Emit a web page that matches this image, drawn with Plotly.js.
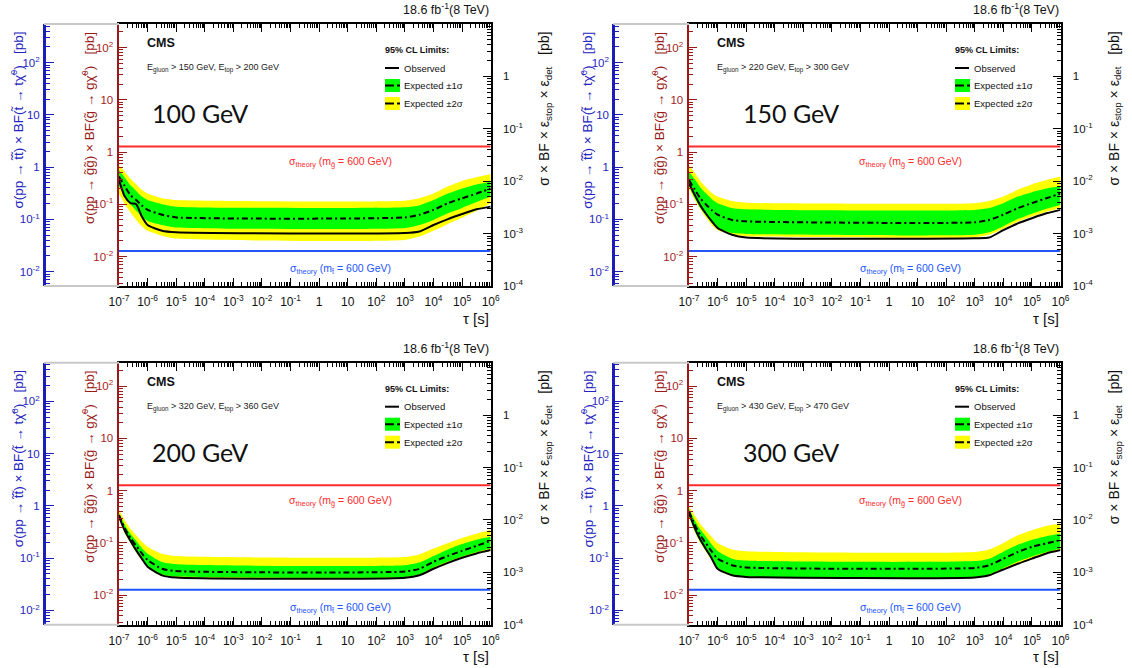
<!DOCTYPE html>
<html><head><meta charset="utf-8">
<script src="https://cdn.plot.ly/plotly-3.0.1.min.js"></script>
<style>html,body{margin:0;padding:0;background:#fff}#chart{width:1132px;height:668px}</style>
</head><body><div id="chart"></div>
<script>
// ---------------- DATA ----------------
const tau = [1e-7, 1.6e-7, 2.5e-7, 4e-7, 6.3e-7, 1e-6, 3.2e-6, 1e-5, 1e3, 3.2e3, 1e4, 3.2e4, 1e5, 3.2e5, 1e6];

const massLabels = ['100 GeV', '150 GeV', '200 GeV', '300 GeV'];
const energyCuts = [
  'E<sub>gluon</sub> > 150 GeV, E<sub>top</sub> > 200 GeV',
  'E<sub>gluon</sub> > 220 GeV, E<sub>top</sub> > 300 GeV',
  'E<sub>gluon</sub> > 320 GeV, E<sub>top</sub> > 360 GeV',
  'E<sub>gluon</sub> > 430 GeV, E<sub>top</sub> > 470 GeV'
];

// 100 GeV
const obs100  = [0.29, 0.14, 0.105, 0.10, 0.058, 0.040, 0.031, 0.029, 0.028, 0.030, 0.040, 0.052, 0.065, 0.080, 0.090];
const exp100  = [0.34, 0.22, 0.15, 0.12, 0.095, 0.078, 0.063, 0.056, 0.056, 0.063, 0.078, 0.105, 0.13, 0.16, 0.20];
const g1lo100 = [0.22, 0.14, 0.10, 0.075, 0.058, 0.048, 0.040, 0.036, 0.035, 0.040, 0.050, 0.067, 0.085, 0.11, 0.14];
const g1hi100 = [0.45, 0.32, 0.23, 0.18, 0.14, 0.12, 0.10, 0.090, 0.0875, 0.095, 0.12, 0.16, 0.20, 0.24, 0.27];
const y2lo100 = [0.16, 0.10, 0.07, 0.05, 0.038, 0.031, 0.025, 0.022, 0.0207, 0.024, 0.031, 0.042, 0.055, 0.075, 0.105];
const y2hi100 = [0.56, 0.42, 0.31, 0.24, 0.19, 0.16, 0.13, 0.12, 0.117, 0.13, 0.16, 0.22, 0.28, 0.33, 0.38];

// 150 GeV
const obs150  = [0.25, 0.15, 0.095, 0.065, 0.047, 0.035, 0.026, 0.023, 0.0224, 0.023, 0.032, 0.043, 0.054, 0.067, 0.078];
const exp150  = [0.29, 0.19, 0.13, 0.098, 0.077, 0.063, 0.050, 0.047, 0.045, 0.050, 0.063, 0.084, 0.105, 0.13, 0.16];
const g1lo150 = [0.22, 0.13, 0.085, 0.060, 0.044, 0.035, 0.028, 0.027, 0.026, 0.029, 0.038, 0.052, 0.066, 0.082, 0.097];
const g1hi150 = [0.42, 0.30, 0.21, 0.16, 0.125, 0.105, 0.085, 0.080, 0.078, 0.085, 0.105, 0.14, 0.17, 0.20, 0.22];
const y2lo150 = [0.20, 0.12, 0.08, 0.055, 0.040, 0.032, 0.026, 0.0245, 0.0234, 0.026, 0.034, 0.046, 0.058, 0.072, 0.084];
const y2hi150 = [0.56, 0.40, 0.28, 0.21, 0.165, 0.14, 0.115, 0.107, 0.105, 0.115, 0.14, 0.19, 0.24, 0.29, 0.34];

// 200 GeV
const obs200  = [0.32, 0.17, 0.11, 0.072, 0.050, 0.035, 0.024, 0.0217, 0.0215, 0.024, 0.032, 0.0415, 0.052, 0.063, 0.073];
const exp200  = [0.34, 0.19, 0.125, 0.088, 0.063, 0.047, 0.032, 0.029, 0.0284, 0.032, 0.0435, 0.0566, 0.0705, 0.088, 0.11];
const g1lo200 = [0.30, 0.16, 0.105, 0.070, 0.048, 0.035, 0.025, 0.0228, 0.0224, 0.025, 0.034, 0.044, 0.055, 0.067, 0.078];
const g1hi200 = [0.37, 0.22, 0.15, 0.11, 0.080, 0.062, 0.043, 0.039, 0.0375, 0.042, 0.056, 0.075, 0.095, 0.115, 0.131];
const y2lo200 = [0.28, 0.15, 0.10, 0.066, 0.046, 0.034, 0.0235, 0.0215, 0.021, 0.0235, 0.032, 0.042, 0.052, 0.063, 0.070];
const y2hi200 = [0.43, 0.27, 0.19, 0.14, 0.105, 0.085, 0.062, 0.056, 0.054, 0.060, 0.078, 0.10, 0.125, 0.15, 0.176];

// 300 GeV
const obs300  = [0.37, 0.19, 0.115, 0.075, 0.050, 0.032, 0.024, 0.0224, 0.0218, 0.024, 0.031, 0.040, 0.050, 0.063, 0.073];
const exp300  = [0.40, 0.22, 0.14, 0.097, 0.068, 0.050, 0.0375, 0.034, 0.0333, 0.0375, 0.050, 0.067, 0.084, 0.098, 0.113];
const g1lo300 = [0.33, 0.17, 0.105, 0.070, 0.047, 0.033, 0.025, 0.0228, 0.0224, 0.025, 0.033, 0.044, 0.055, 0.067, 0.078];
const g1hi300 = [0.45, 0.27, 0.18, 0.13, 0.093, 0.070, 0.050, 0.046, 0.045, 0.050, 0.068, 0.092, 0.115, 0.135, 0.152];
const y2lo300 = [0.31, 0.16, 0.10, 0.067, 0.045, 0.031, 0.0235, 0.022, 0.0215, 0.0235, 0.031, 0.041, 0.051, 0.064, 0.073];
const y2hi300 = [0.50, 0.33, 0.23, 0.17, 0.13, 0.10, 0.075, 0.069, 0.067, 0.075, 0.10, 0.14, 0.175, 0.21, 0.237];

const sigmaGluino600 = 1.27;   // pb, on gluino axis
const sigmaStop600 = 0.0248;   // pb, on stop axis

const xTickVals = [1e-7,1e-6,1e-5,1e-4,1e-3,1e-2,1e-1,1,10,1e2,1e3,1e4,1e5,1e6];
const xTickText = ['10<sup>-7</sup>','10<sup>-6</sup>','10<sup>-5</sup>','10<sup>-4</sup>','10<sup>-3</sup>','10<sup>-2</sup>','10<sup>-1</sup>','1','10','10<sup>2</sup>','10<sup>3</sup>','10<sup>4</sup>','10<sup>5</sup>','10<sup>6</sup>'];
const yTickVals = [1e-2,1e-1,1,10,1e2];
const yTickText = ['10<sup>-2</sup>','10<sup>-1</sup>','1','10','10<sup>2</sup>'];
const rTickVals = [1e-4,1e-3,1e-2,1e-1,1];
const rTickText = ['10<sup>-4</sup>','10<sup>-3</sup>','10<sup>-2</sup>','10<sup>-1</sup>','1'];

const series = [
  {obs: obs100, exp: exp100, g1lo: g1lo100, g1hi: g1hi100, y2lo: y2lo100, y2hi: y2hi100},
  {obs: obs150, exp: exp150, g1lo: g1lo150, g1hi: g1hi150, y2lo: y2lo150, y2hi: y2hi150},
  {obs: obs200, exp: exp200, g1lo: g1lo200, g1hi: g1hi200, y2lo: y2lo200, y2hi: y2hi200},
  {obs: obs300, exp: exp300, g1lo: g1lo300, g1hi: g1hi300, y2lo: y2lo300, y2hi: y2hi300}
];

// ---------------- LAYOUT ----------------
const W = 1132, H = 668;
const fx = p => p / W, fy = p => 1 - p / H;
const panels = [
  {x0: 119, x1: 490.7, blue: 44,    top: 24,    bot: 286,   massDx: 31},
  {x0: 689, x1: 1060.5, blue: 613.3, top: 24,   bot: 286,   massDx: 52},
  {x0: 119, x1: 490.7, blue: 44,    top: 362.7, bot: 624.7, massDx: 31},
  {x0: 689, x1: 1060.5, blue: 613.3, top: 362.7, bot: 624.7, massDx: 52}
];
const FONT = 'Liberation Sans, Arial, Helvetica, sans-serif';
const RED_AX = '#9a1a1a', RED_TXT = '#a82222';
const BLUE_AX = '#1c1cb8', BLUE_TXT = '#2424c0';
const RED_LINE = '#ff2a2a', BLUE_LINE = '#2255ff';
const YEL = '#ffff00', GRN = '#00ff00';
const redRange = [-2.565, 2.45], blueOffset = 0.29, rightRange = [-4, 1.0];

const layout = {
  width: W, height: H, margin: {l: 0, r: 0, t: 0, b: 0},
  paper_bgcolor: '#fff', plot_bgcolor: '#fff', showlegend: false,
  font: {family: FONT, size: 12, color: '#111'},
  annotations: [], shapes: []
};
const data = [];
const minorCfg = (color) => ({ticks: 'inside', ticklen: 4, tickwidth: 1, tickcolor: color, dtick: 'D1', showgrid: false});

panels.forEach((p, i) => {
  const xn = i + 1, xName = xn === 1 ? 'x' : 'x' + xn;
  const rn = 3 * i + 1, rt = 3 * i + 2, bl = 3 * i + 3;
  const yName = n => n === 1 ? 'y' : 'y' + n;
  const yKey = n => n === 1 ? 'yaxis' : 'yaxis' + n;
  const xKey = xn === 1 ? 'xaxis' : 'xaxis' + xn;
  const dom = [fy(p.bot), fy(p.top)];

  layout[xKey] = {
    type: 'log', domain: [fx(p.x0), fx(p.x1)], anchor: yName(rn),
    range: [-7, 6], tickmode: 'array', tickvals: xTickVals, ticktext: xTickText,
    ticks: 'inside', ticklen: 8, tickwidth: 1, tickcolor: '#000',
    minor: minorCfg('#000'),
    showline: true, linecolor: '#000', linewidth: 2, mirror: 'ticks',
    showgrid: false, zeroline: false,
    tickfont: {family: FONT, size: 12, color: '#111'}, ticklabelstandoff: 4
  };
  layout[yKey(rn)] = {
    type: 'log', domain: dom, anchor: xName, range: redRange,
    tickmode: 'array', tickvals: yTickVals, ticktext: yTickText,
    ticks: 'inside', ticklen: 8, tickwidth: 1, tickcolor: RED_AX,
    minor: minorCfg(RED_AX),
    showline: true, linecolor: RED_AX, linewidth: 2.5,
    showgrid: false, zeroline: false,
    tickfont: {family: FONT, size: 11.5, color: RED_TXT}, ticklabelstandoff: 1
  };
  layout[yKey(rt)] = {
    type: 'log', domain: dom, anchor: xName, overlaying: yName(rn), side: 'right',
    range: rightRange, tickmode: 'array', tickvals: rTickVals, ticktext: rTickText,
    ticks: 'inside', ticklen: 8, tickwidth: 1, tickcolor: '#000',
    minor: minorCfg('#000'),
    showline: true, linecolor: '#000', linewidth: 2,
    showgrid: false, zeroline: false,
    tickfont: {family: FONT, size: 11.5, color: '#111'}, ticklabelstandoff: 8
  };
  layout[yKey(bl)] = {
    type: 'log', domain: dom, anchor: 'free', position: fx(p.blue), overlaying: yName(rn), side: 'left',
    range: [redRange[0] + blueOffset, redRange[1] + blueOffset],
    tickmode: 'array', tickvals: yTickVals, ticktext: yTickText,
    ticks: 'inside', ticklen: 8, tickwidth: 1, tickcolor: BLUE_AX,
    minor: minorCfg(BLUE_AX),
    showline: true, linecolor: BLUE_AX, linewidth: 2.5,
    showgrid: false, zeroline: false,
    tickfont: {family: FONT, size: 11.5, color: BLUE_TXT}, ticklabelstandoff: 1
  };

  const s = series[i];
  const base = {x: tau, xaxis: xName, yaxis: yName(rn), mode: 'lines', hoverinfo: 'skip'};
  data.push(Object.assign({}, base, {y: s.y2lo, line: {width: 0, shape: 'spline', smoothing: 0.6}}));
  data.push(Object.assign({}, base, {y: s.y2hi, fill: 'tonexty', fillcolor: YEL, line: {width: 0, shape: 'spline', smoothing: 0.6}}));
  data.push(Object.assign({}, base, {y: s.g1lo, line: {width: 0, shape: 'spline', smoothing: 0.6}}));
  data.push(Object.assign({}, base, {y: s.g1hi, fill: 'tonexty', fillcolor: GRN, line: {width: 0, shape: 'spline', smoothing: 0.6}}));
  data.push(Object.assign({}, base, {y: s.exp, line: {color: '#000', width: 2, dash: '6px,3px,2px,3px', shape: 'spline', smoothing: 0.6}}));
  data.push(Object.assign({}, base, {y: s.obs, line: {color: '#000', width: 2, shape: 'spline', smoothing: 0.6}}));
  data.push(Object.assign({}, base, {x: [1e-7, 1e6], y: [sigmaGluino600, sigmaGluino600], line: {color: RED_LINE, width: 2}}));
  data.push({x: [1e-7, 1e6], y: [sigmaStop600, sigmaStop600], xaxis: xName, yaxis: yName(bl), mode: 'lines', hoverinfo: 'skip', line: {color: BLUE_LINE, width: 2}});
  data.push({x: [], y: [], xaxis: xName, yaxis: yName(rt), mode: 'lines', hoverinfo: 'skip'});

  // gray connectors between blue and red axes
  [p.top, p.bot].forEach(yy => layout.shapes.push({type: 'line', xref: 'paper', yref: 'paper',
    x0: fx(p.blue), x1: fx(p.x0), y0: fy(yy), y1: fy(yy), line: {color: '#c8c8c8', width: 2}}));

  const ann = (x, y, text, opts) => layout.annotations.push(Object.assign({
    xref: 'paper', yref: 'paper', x: fx(x), y: fy(y), text: text, showarrow: false,
    xanchor: 'left', yanchor: 'middle', font: {family: FONT, size: 10, color: '#111'}
  }, opts || {}));

  ann(p.x1, p.top - 15, '18.6 fb<sup>-1</sup>(8 TeV)', {xanchor: 'right', font: {family: FONT, size: 12.5, color: '#111'}});
  ann(p.x0 + 26, p.top + 19, '<b>CMS</b>', {font: {family: FONT, size: 12.5, color: '#111'}});
  ann(p.x0 + 26, p.top + 44, energyCuts[i], {font: {family: FONT, size: 9, color: '#222'}});
  ann(p.x0 + p.massDx, p.top + 89, massLabels[i], {font: {family: 'Lato, Open Sans, sans-serif', size: 25, color: '#111'}});

  // legend
  ann(p.x0 + 264, p.top + 26, '<b>95% CL Limits:</b>', {font: {family: FONT, size: 9, color: '#111'}});
  layout.shapes.push({type: 'line', xref: 'paper', yref: 'paper', x0: fx(p.x0 + 266), x1: fx(p.x0 + 280),
    y0: fy(p.top + 44), y1: fy(p.top + 44), line: {color: '#000', width: 2}});
  ann(p.x0 + 283, p.top + 44, 'Observed', {font: {family: FONT, size: 9.5, color: '#111'}});
  [[GRN, 55, 'Expected \u00b11\u03c3'], [YEL, 73, 'Expected \u00b12\u03c3']].forEach(([c, dy, t]) => {
    layout.shapes.push({type: 'rect', xref: 'paper', yref: 'paper', x0: fx(p.x0 + 266), x1: fx(p.x0 + 281),
      y0: fy(p.top + dy), y1: fy(p.top + dy + 13), fillcolor: c, line: {width: 0}});
    layout.shapes.push({type: 'line', xref: 'paper', yref: 'paper', x0: fx(p.x0 + 266), x1: fx(p.x0 + 281),
      y0: fy(p.top + dy + 6.5), y1: fy(p.top + dy + 6.5), line: {color: '#000', width: 2, dash: 'dashdot'}});
    ann(p.x0 + 283, p.top + dy + 6.5, t, {font: {family: FONT, size: 9.5, color: '#111'}});
  });

  // theory labels
  ann(p.x0 + 221, p.top + 138, '\u03c3<sub>theory</sub> (m<sub>g\u0303</sub> = 600 GeV)', {xanchor: 'center', font: {family: FONT, size: 10.5, color: RED_LINE}});
  ann(p.x0 + 221, p.top + 245, '\u03c3<sub>theory</sub> (m<sub>t\u0303</sub> = 600 GeV)', {xanchor: 'center', font: {family: FONT, size: 10.5, color: BLUE_LINE}});

  // axis titles
  ann(p.x1, p.top + 294, '\u03c4 [s]', {xanchor: 'right', font: {family: FONT, size: 15, color: '#111'}});
  ann(p.x1 + 54, p.top + 6, '\u03c3 \u00d7 BF \u00d7 \u03b5<sub>stop</sub> \u00d7 \u03b5<sub>det</sub>\u00a0\u00a0\u00a0[pb]',
    {textangle: -90, xanchor: 'center', yanchor: 'top', font: {family: FONT, size: 14, color: '#111'}});
  ann(p.x0 - 31, p.top + 6, '\u03c3(pp \u2192 g\u0303g\u0303) \u00d7 BF(g\u0303 \u2192 g\u03c7\u0303<sup>0</sup>)\u00a0\u00a0\u00a0[pb]',
    {textangle: -90, xanchor: 'center', yanchor: 'top', font: {family: FONT, size: 13.5, color: RED_AX}});
  ann(p.blue - 26, p.top + 6, '\u03c3(pp \u2192 t\u0303t\u0303) \u00d7 BF(t\u0303 \u2192 t\u03c7\u0303<sup>0</sup>)\u00a0\u00a0\u00a0[pb]',
    {textangle: -90, xanchor: 'center', yanchor: 'top', font: {family: FONT, size: 13.5, color: BLUE_TXT}});
});

Plotly.newPlot('chart', data, layout, {staticPlot: true, displayModeBar: false});
</script>
</body></html>
